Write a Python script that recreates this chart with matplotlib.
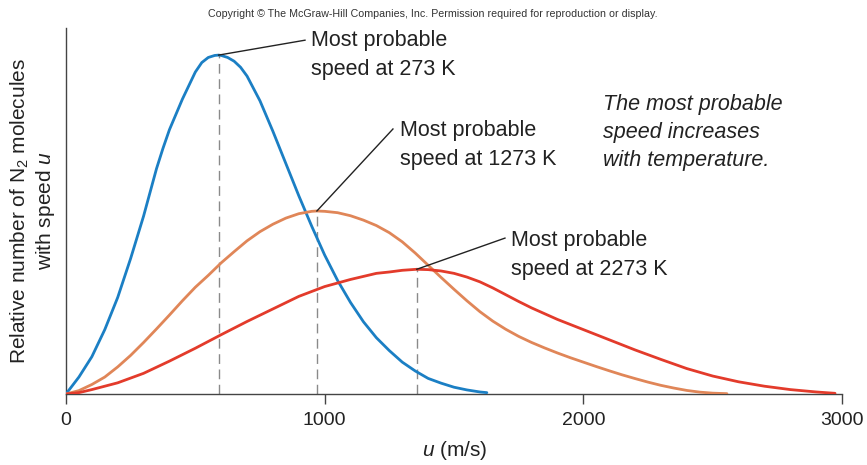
import matplotlib
matplotlib.use("Agg")
import matplotlib.pyplot as plt

plt.rcParams['font.family'] = ['Liberation Sans', 'DejaVu Sans']
plt.rcParams['mathtext.fontset'] = 'custom'
plt.rcParams['mathtext.rm'] = 'Liberation Sans'
plt.rcParams['mathtext.it'] = 'Liberation Sans:italic'

# speeds (m/s) and relative numbers (273 K peak = 100)
u_273 = [0, 50, 100, 150, 200, 250, 300, 325, 350, 375, 400, 450, 500, 525, 550, 575, 590,
         600, 625, 650, 675, 700, 750, 800, 850, 900, 950, 1000, 1050, 1100, 1150, 1200,
         1250, 1300, 1350, 1400, 1450, 1500, 1550, 1600, 1627]
n_273 = [0, 5, 11, 19, 28.5, 40, 52.5, 59.5, 66.5, 72.5, 78, 87, 95, 97.8, 99.3, 99.9, 100,
         99.9, 99.3, 98.2, 96.4, 93.8, 86.5, 77.5, 68, 58.5, 49.5, 41, 33.5, 27, 21.3, 16.6,
         12.8, 9.4, 6.8, 4.6, 3.2, 2.0, 1.2, 0.6, 0.4]

u_1273 = [0, 50, 100, 150, 200, 250, 300, 350, 400, 450, 500, 550, 600, 650, 700, 750, 800,
          850, 900, 950, 970, 1000, 1050, 1100, 1150, 1200, 1250, 1300, 1350, 1400, 1450,
          1500, 1550, 1600, 1650, 1700, 1750, 1800, 1850, 1900, 1950, 2000, 2050, 2100,
          2150, 2200, 2250, 2300, 2350, 2400, 2450, 2500, 2555]
n_1273 = [0, 1.0, 2.8, 5.0, 8.0, 11.4, 15.2, 19.2, 23.3, 27.5, 31.5, 35, 38.7, 42, 45.2, 47.9,
          50.1, 51.9, 53.2, 53.9, 54.0, 53.9, 53.5, 52.6, 51.3, 49.7, 47.6, 44.9, 41.6, 38.0,
          34.4, 30.9, 27.5, 24.3, 21.5, 19.1, 17.0, 15.2, 13.6, 12.1, 10.7, 9.4, 8.1, 6.85,
          5.65, 4.55, 3.5, 2.55, 1.75, 1.05, 0.55, 0.25, 0.1]

u_2273 = [0, 50, 100, 200, 300, 400, 500, 600, 700, 800, 900, 1000, 1100, 1200, 1250, 1300,
          1356, 1400, 1450, 1500, 1550, 1600, 1650, 1700, 1750, 1800, 1900, 2000, 2100, 2200,
          2300, 2400, 2500, 2600, 2700, 2800, 2900, 2973]
n_2273 = [0, 0.4, 1.3, 3.3, 6.1, 9.7, 13.5, 17.5, 21.4, 25.1, 28.8, 31.7, 33.8, 35.6, 36.0,
          36.5, 36.8, 36.7, 36.3, 35.6, 34.5, 33.1, 31.3, 29.3, 27.3, 25.4, 22.0, 19.0, 16.0,
          13.0, 10.2, 7.5, 5.3, 3.6, 2.3, 1.3, 0.6, 0.2]

series = [
    (u_273, n_273, '#1b7fc4', "Most probable\nspeed at 273 K", (947, 99.9), (924, 104.4)),
    (u_1273, n_1273, '#e08658', "Most probable\nspeed at 1273 K", (1291, 73.4), (1264, 78.2)),
    (u_2273, n_2273, '#e33b2b', "Most probable\nspeed at 2273 K", (1720, 41.0), (1697, 46.0)),
]

fig = plt.figure(figsize=(8.67, 4.65), dpi=100)
ax = fig.add_axes([0.0761, 0.1527, 0.8951, 0.7871])

for u, n, col, label, txt_pos, line_end in series:
    ax.plot(u, n, color=col, lw=2.0, solid_joinstyle='round', solid_capstyle='round', zorder=3)
    i = n.index(max(n))
    ax.plot([u[i], u[i]], [0, n[i]], color='#8a8a8a', lw=1.0, ls=(0, (7, 4)), zorder=2)
    ax.plot([u[i], line_end[0]], [n[i], line_end[1]], color='#222222', lw=1.0, zorder=4)
    ax.text(txt_pos[0], txt_pos[1], label, fontsize=15.5, color='#222222',
            ha='left', va='center', linespacing=1.5)

ax.text(2076, 77.2, "The most probable\nspeed increases\nwith temperature.",
        fontsize=15.5, style='italic', color='#222222', ha='left', va='center', linespacing=1.42)

ax.set_xlim(0, 3000)
ax.set_ylim(0, 108)
ax.set_xticks([0, 1000, 2000, 3000])
ax.set_yticks([])
ax.tick_params(axis='x', direction='out', length=7, width=1.0, color='#444444',
               labelsize=14, labelcolor='#222222', pad=6)
for side in ['top', 'right']:
    ax.spines[side].set_visible(False)
for side in ['left', 'bottom']:
    ax.spines[side].set_color('#444444')
    ax.spines[side].set_linewidth(1.0)

fig.text(0.5248, 1 - 450 / 465, "$u$ (m/s)", fontsize=15, color='#222222',
         ha='center', va='center')
fig.text(33 / 867, 1 - 211 / 465, "Relative number of N$_2$ molecules\nwith speed $u$",
         fontsize=15, color='#222222', rotation=90, ha='center', va='center',
         multialignment='center', linespacing=1.2)
fig.text(0.4994, 1 - 14 / 465,
         "Copyright \u00a9 The McGraw-Hill Companies, Inc. Permission required for reproduction or display.",
         fontsize=7.7, color='#333333', ha='center', va='center')

fig.savefig("out.png", dpi=100)
